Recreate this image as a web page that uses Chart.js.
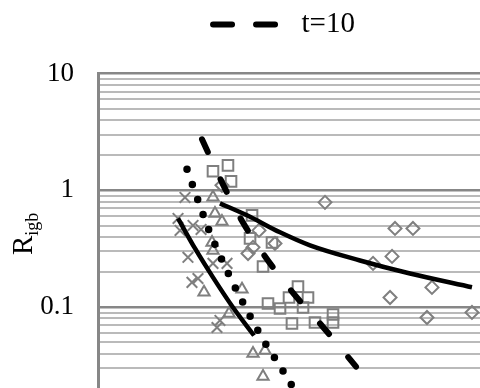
<!DOCTYPE html>
<html>
<head>
<meta charset="utf-8">
<script src="https://cdn.jsdelivr.net/npm/chart.js@4.4.1/dist/chart.umd.min.js"></script>
<style>
  html, body { margin: 0; padding: 0; overflow: hidden; background: #fff; }
  #wrap { position: relative; width: 480px; height: 424px; }
</style>
</head>
<body>
<div id="wrap"><canvas id="chart"></canvas></div>
<script>
// y axis (log): labelled decades and the 1..9 steps between them
const yDecades = [0.01, 0.1, 1, 10];
const ySteps = [1, 2, 3, 4, 5, 6, 7, 8, 9];
const yTitle = 'R';
const yTitleSub = 'igb';

// measured points (x is the hidden horizontal axis, 0-40)
const crossX = [9.11, 8.38, 8.59, 9.95, 10.79, 9.42, 12.04, 13.51, 10.47, 9.84, 12.77, 12.46];
const crossY = [0.87, 0.575, 0.454, 0.501, 0.463, 0.267, 0.237, 0.237, 0.176, 0.163, 0.077, 0.067];

const triX = [12.04, 12.25, 12.98, 11.94, 12.04, 11.10, 15.08, 13.72, 16.23, 17.49, 17.28];
const triY = [0.871, 0.635, 0.542, 0.358, 0.306, 0.134, 0.142, 0.0883, 0.0401, 0.0426, 0.0255];

const sqX = [12.04, 13.61, 13.93, 16.13, 15.92, 18.22, 17.28, 20.94, 20.00, 21.99, 17.80, 19.06, 21.47, 20.31, 22.72, 24.61, 24.61];
const sqY = [1.455, 1.637, 1.194, 0.611, 0.388, 0.358, 0.223, 0.150, 0.121, 0.121, 0.1076, 0.0975, 0.0994, 0.0725, 0.0739, 0.0866, 0.0739];

const diaX = [12.98, 15.71, 16.23, 16.86, 18.53, 23.77, 31.10, 32.98, 30.79, 28.80, 34.97, 30.58, 34.45, 39.16];
const diaY = [1.104, 0.288, 0.325, 0.454, 0.351, 0.789, 0.472, 0.472, 0.272, 0.237, 0.1476, 0.121, 0.0816, 0.0901];

// curves
const fit1X = [8.38, 10.16, 12.04, 14.14, 16.34];
const fit1Y = [0.575, 0.318, 0.180, 0.0994, 0.0572];

const fit2X = [12.77, 15.60, 19.06, 22.20, 27.43, 32.67, 39.16];
const fit2Y = [0.774, 0.611, 0.437, 0.338, 0.251, 0.194, 0.148];

const t10X = [10.89, 12.98, 14.87, 17.28, 20.31, 23.25, 27.02];
const t10Y = [2.735, 1.171, 0.587, 0.288, 0.136, 0.0725, 0.0310];

const dotX = [9.32, 10.47, 11.62, 12.67, 14.14, 15.50, 17.28, 19.16, 20.73];
const dotY = [1.513, 0.821, 0.454, 0.288, 0.160, 0.0975, 0.0529, 0.0304, 0.0186];

const grey = '#7f7f7f';
const serif = 'Liberation Serif';

function toPoints(xs, ys) {
    return xs.map((x, i) => ({ x: x, y: ys[i] }));
}

// every gridline value: 0.01, 0.02 ... 9, 10
const yGridValues = [];
yDecades.slice(0, -1).forEach(d => ySteps.forEach(s => yGridValues.push(+(d * s).toPrecision(3))));
yGridValues.push(yDecades[yDecades.length - 1]);

const isDecade = v => yDecades.includes(v);

// extra room under the legend and nudge it left
const legendSpacing = {
    id: 'legendSpacing',
    beforeLayout(chart) {
        const legend = chart.legend;
        if (!legend || legend._spaced) return;
        const fit = legend.fit;
        legend.fit = function () {
            fit.call(this);
            this.height += 24.5;
            this.lineWidths = this.lineWidths.map(w => w + 10);
        };
        legend._spaced = true;
    }
};

// y title with subscript
const axisTitle = {
    id: 'axisTitle',
    afterDraw(chart) {
        const ctx = chart.ctx;
        ctx.save();
        ctx.translate(32, 255);
        ctx.rotate(-Math.PI / 2);
        ctx.fillStyle = '#000';
        ctx.textBaseline = 'alphabetic';
        ctx.font = '29px "' + serif + '"';
        ctx.fillText(yTitle, 0, 0);
        const w = ctx.measureText(yTitle).width;
        ctx.font = '18px "' + serif + '"';
        ctx.fillText(yTitleSub, w, 6);
        ctx.restore();
    }
};

const markerBase = {
    showLine: false,
    borderColor: grey,
    backgroundColor: 'rgba(0,0,0,0)',
    borderWidth: 2,
    pointBorderWidth: 2
};

new Chart(document.getElementById('chart'), {
    type: 'scatter',
    data: {
        datasets: [{
            label: 't=10',
            data: toPoints(t10X, t10Y),
            showLine: true,
            borderColor: '#000',
            borderWidth: 6,
            borderDash: [14, 30],
            borderCapStyle: 'round',
            pointRadius: 0,
            cubicInterpolationMode: 'monotone'
        }, {
            label: 'dotted',
            data: toPoints(dotX, dotY),
            showLine: true,
            borderColor: '#000',
            borderWidth: 7.5,
            borderDash: [0, 16],
            borderCapStyle: 'round',
            pointRadius: 0,
            cubicInterpolationMode: 'monotone'
        }, {
            label: 'fit 1',
            data: toPoints(fit1X, fit1Y),
            showLine: true,
            borderColor: '#000',
            borderWidth: 4.5,
            pointRadius: 0,
            cubicInterpolationMode: 'monotone'
        }, {
            label: 'fit 2',
            data: toPoints(fit2X, fit2Y),
            showLine: true,
            borderColor: '#000',
            borderWidth: 4.5,
            pointRadius: 0,
            cubicInterpolationMode: 'monotone'
        }, {
            ...markerBase,
            label: 'cross',
            data: toPoints(crossX, crossY),
            pointStyle: 'crossRot',
            pointRadius: 7.5
        }, {
            ...markerBase,
            label: 'triangle',
            data: toPoints(triX, triY),
            pointStyle: 'triangle',
            pointRadius: 6.5
        }, {
            ...markerBase,
            label: 'square',
            data: toPoints(sqX, sqY),
            pointStyle: 'rect',
            pointRadius: 7.5
        }, {
            ...markerBase,
            label: 'diamond',
            data: toPoints(diaX, diaY),
            pointStyle: 'rectRot',
            pointRadius: 6.5
        }]
    },
    options: {
        responsive: true,
        maintainAspectRatio: false,
        animation: false,
        events: [],
        layout: { padding: 0, autoPadding: false },
        plugins: {
            tooltip: { enabled: false },
            legend: {
                position: 'top',
                fullSize: false,
                labels: {
                    usePointStyle: true,
                    pointStyleWidth: 74,
                    padding: 10,
                    color: '#000',
                    font: { family: serif, size: 29 },
                    generateLabels: chart => Chart.defaults.plugins.legend.labels.generateLabels(chart).map(item => ({
                        ...item,
                        pointStyle: 'line',
                        lineWidth: 6,
                        lineCap: 'round',
                        lineDash: [19, 24, 19, 200],
                        strokeStyle: '#000'
                    })),
                    filter: item => item.text === 't=10'
                }
            }
        },
        scales: {
            x: {
                type: 'linear',
                min: 0,
                max: 40,
                display: false
            },
            y: {
                type: 'logarithmic',
                min: yDecades[0],
                max: yDecades[yDecades.length - 1],
                afterBuildTicks: scale => {
                    scale.ticks = yGridValues.map(v => ({ value: v, major: isDecade(v) }));
                },
                afterFit: scale => {
                    scale.width = 98;
                    scale.paddingTop = 0;
                    scale.paddingBottom = 0;
                },
                border: { color: '#878787', width: 3 },
                grid: {
                    drawTicks: false,
                    color: ctx => isDecade(ctx.tick.value) ? '#878787' : '#bababa',
                    lineWidth: ctx => isDecade(ctx.tick.value) ? 2.5 : 2
                },
                ticks: {
                    autoSkip: false,
                    padding: 24,
                    color: '#000',
                    font: { family: serif, size: 27 },
                    callback: value => isDecade(value) ? String(value) : ''
                }
            }
        }
    },
    plugins: [legendSpacing, axisTitle]
});
</script>
</body>
</html>
